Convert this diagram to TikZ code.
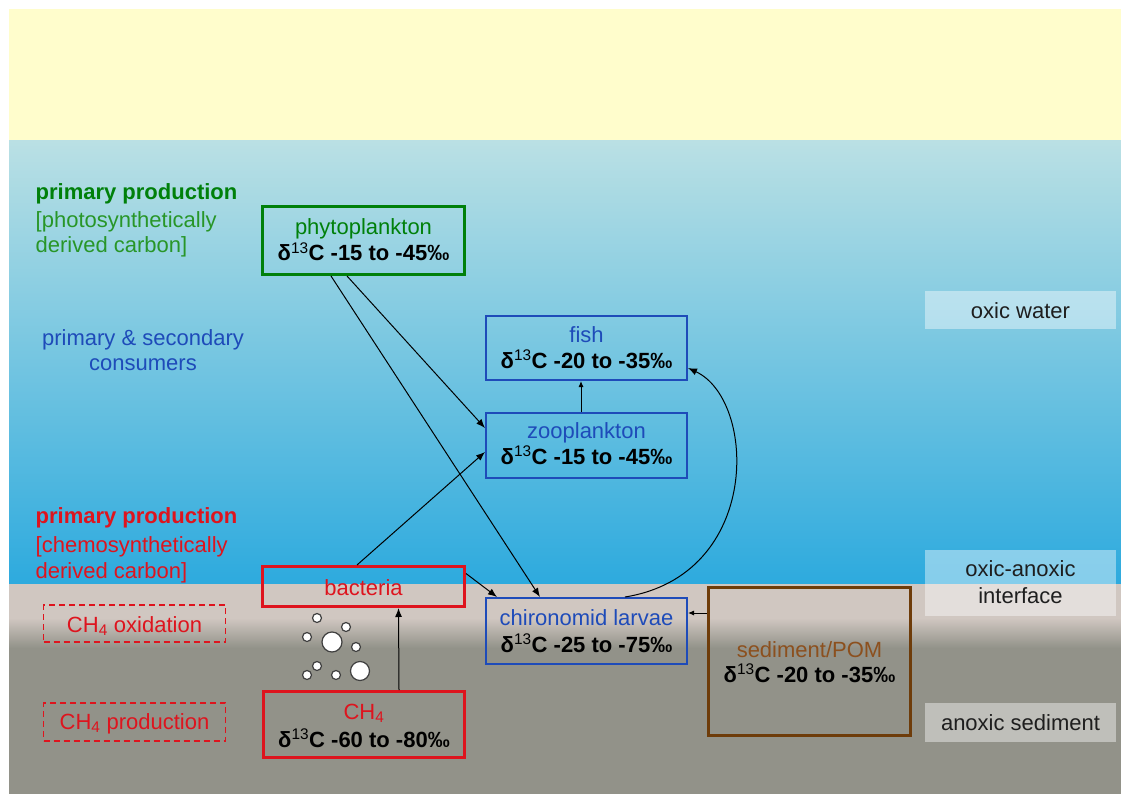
\documentclass[tikz,border=0pt]{standalone}
\usepackage{fontspec}
\setmainfont{Liberation Sans}
\usetikzlibrary{arrows.meta}
\definecolor{yel}{RGB}{255,253,204}
\definecolor{skyA}{RGB}{186,224,228}
\definecolor{skyB}{RGB}{45,170,222}
\definecolor{sedA}{RGB}{208,199,193}
\definecolor{sedB}{RGB}{146,146,137}
\definecolor{grn}{RGB}{0,128,10}
\definecolor{grnL}{RGB}{40,150,40}
\definecolor{blu}{RGB}{30,75,185}
\definecolor{red1}{RGB}{222,20,30}
\definecolor{brnB}{RGB}{110,60,10}
\definecolor{brnT}{RGB}{140,80,30}
\definecolor{dark}{RGB}{30,30,30}
\newcommand\dC{δ\textsuperscript{\mdseries 13}C}
\tikzset{
  txt/.style={inner sep=0pt, anchor=base, font={\fontsize{22}{26}\selectfont}},
  ltxt/.style={txt, anchor=base west},
  btxt/.style={txt, font={\fontsize{22}{26}\selectfont\bfseries}},
  box/.style={draw, inner sep=0pt, line width=#1},
  box/.default=3pt,
  lab/.style={fill=white, fill opacity=0.42, inner sep=0pt},
  dbox/.style={draw=red1, dashed, dash pattern=on 6pt off 4pt, line width=1.5pt, inner sep=0pt},
  arr/.style={line width=1pt, -{Latex[length=9pt,width=7pt]}},
  sarr/.style={line width=1pt, -{Latex[length=6pt,width=5pt]}},
  bub/.style={draw=black!75, fill=white, line width=1.2pt}
}
\begin{document}
\begin{tikzpicture}[x=1pt,y=-1pt]
\useasboundingbox (0,0) rectangle (1121,794);
\fill[white] (0,0) rectangle (1121,794);
% background layers
\fill[yel] (9,9) rectangle (1121,141);
\shade[top color=skyA, bottom color=skyB] (9,141) rectangle (1121,584);
\fill[sedA] (9,584) rectangle (1121,618);
\shade[top color=sedA, bottom color=sedB] (9,618) rectangle (1121,648);
\fill[sedB] (9,648) rectangle (1121,794);

% right zone labels
\node[lab, minimum width=191pt, minimum height=38pt] (lw) at (1020.5,310) {};
\node[lab, minimum width=191pt, minimum height=66pt] (li) at (1020.5,583) {};
\node[lab, minimum width=191pt, minimum height=39pt] (ls) at (1020.5,722.5) {};
\node[txt, text=dark] (lwt) at (1020.5,318) {oxic water};
\node[txt, text=dark] (lit1) at (1020.5,576) {oxic-anoxic};
\node[txt, text=dark] (lit2) at (1020.5,603) {interface};
\node[txt, text=dark] (lst) at (1020.5,730) {anoxic sediment};

% left texts
\node[ltxt, text=grn, font={\fontsize{22}{26}\selectfont\bfseries}] (pp1) at (35.5,200) {primary production};
\node[ltxt, text=grnL] (pp2) at (35.5,228) {[photosynthetically};
\node[ltxt, text=grnL] (pp3) at (35.5,253) {derived carbon]};
\node[txt, text=blu] (ps1) at (143,345) {primary \& secondary};
\node[txt, text=blu] (ps2) at (143,370) {consumers};
\node[ltxt, text=red1, font={\fontsize{22}{26}\selectfont\bfseries}] (cp1) at (35.5,523) {primary production};
\node[ltxt, text=red1] (cp2) at (35.5,552) {[chemosynthetically};
\node[ltxt, text=red1] (cp3) at (35.5,578) {derived carbon]};

% dashed process boxes
\node[dbox, minimum width=182pt, minimum height=37pt] (ox) at (134.5,623.5) {};
\node[txt, text=red1] (oxt) at (134.5,632) {CH\textsubscript{4} oxidation};
\node[dbox, minimum width=182pt, minimum height=38pt] (pr) at (134.5,722) {};
\node[txt, text=red1] (prt) at (134.5,729) {CH\textsubscript{4} production};

% main boxes
\node[box, draw=grn, minimum width=202pt, minimum height=68pt] (phyto) at (363.5,240.5) {};
\node[txt, text=grn] (phytot) at (363.5,235) {phytoplankton};
\node[btxt] (phytod) at (363.5,261) {\dC{} -15 to -45‰};

\node[box=2pt, draw=blu, minimum width=201pt, minimum height=64pt] (fish) at (586.5,348) {};
\node[txt, text=blu] (fisht) at (586.5,342) {fish};
\node[btxt] (fishd) at (586.5,368) {\dC{} -20 to -35‰};

\node[box=2pt, draw=blu, minimum width=201pt, minimum height=65pt] (zoo) at (586.5,445.5) {};
\node[txt, text=blu] (zoot) at (586.5,438) {zooplankton};
\node[btxt] (zood) at (586.5,464) {\dC{} -15 to -45‰};

\node[box=2pt, draw=blu, minimum width=201pt, minimum height=66pt] (chiron) at (586.5,631) {};
\node[txt, text=blu] (chiront) at (586.5,625) {chironomid larvae};
\node[btxt] (chirond) at (586.5,652) {\dC{} -25 to -75‰};

\node[box, draw=brnB, minimum width=202pt, minimum height=148pt] (sed) at (809.5,661.5) {};
\node[txt, text=brnT] (sedt) at (809.5,657) {sediment/POM};
\node[btxt] (sedd) at (809.5,682) {\dC{} -20 to -35‰};

\node[box, draw=red1, minimum width=202pt, minimum height=40pt] (bact) at (363.5,586.5) {};
\node[txt, text=red1] (bactt) at (363.5,595) {bacteria};

\node[box, draw=red1, minimum width=201pt, minimum height=66pt] (ch4) at (364,724.5) {};
\node[txt, text=red1] (ch4t) at (364,719) {CH\textsubscript{4}};
\node[btxt] (ch4d) at (364,747) {\dC{} -60 to -80‰};

% bubbles
\draw[bub] (317,618) circle (4.5);
\draw[bub] (346,627) circle (4.5);
\draw[bub] (307,637) circle (4.5);
\draw[bub] (332,642) circle (10);
\draw[bub] (356,647) circle (4.5);
\draw[bub] (317,666) circle (4.5);
\draw[bub] (307,675) circle (4.5);
\draw[bub] (336,675) circle (4.5);
\draw[bub] (360,671) circle (9.5);

% connectors
\draw[arr] ([xshift=-32.5pt]phyto.south) -- ([xshift=-46.5pt]chiron.north);
\draw[arr] ([xshift=-16.5pt]phyto.south) -- ([yshift=17.5pt]zoo.west);
\draw[arr] ([xshift=-6.5pt]bact.north) -- ([yshift=-6.5pt]zoo.west);
\draw[arr] ([yshift=13pt]bact.east) -- ([xshift=12pt]chiron.north west);
\draw[sarr] ([xshift=-5.5pt]zoo.north) -- ([xshift=-5.5pt]fish.south);
\draw[arr] ([xshift=38.5pt]chiron.north) .. controls (762,575) and (757,400) .. ([yshift=-20pt]fish.east);
\draw[sarr] ([yshift=48.5pt]sed.west) -- ([yshift=18pt]chiron.east);
\draw[arr] ([xshift=35pt]ch4.north) -- ([xshift=35pt]bact.south);
\end{tikzpicture}
\end{document}
